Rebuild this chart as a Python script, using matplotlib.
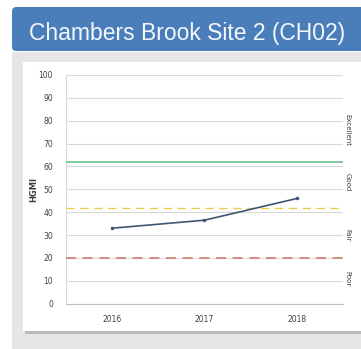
import matplotlib.pyplot as plt
from matplotlib.patches import Rectangle, FancyBboxPatch

# data
years = ['2016', '2017', '2018']
hgmi = [33, 36.5, 46]
excellent_line = 62
good_line = 42
fair_line = 20
band_labels = ['Excellent', 'Good', 'Fair', 'Poor']
band_pos = [76, 53, 30, 11]

W, H = 361, 349
fig = plt.figure(figsize=(W / 100, H / 100), dpi=100)
fig.patch.set_facecolor('white')


def fx(px):
    return px / W


def fy(py):
    return 1 - py / H


# gray panel, blue header, white card
fig.patches.append(Rectangle((fx(12), 0), fx(W - 12), fy(52), transform=fig.transFigure,
                             facecolor='#e6e6e6', edgecolor='none', zorder=0))
fig.patches.append(FancyBboxPatch((fx(12), fy(51)), fx(W), fy(7) - fy(51),
                                  boxstyle='round,pad=0,rounding_size=0.012',
                                  transform=fig.transFigure, facecolor='#4a7ebb',
                                  edgecolor='none', zorder=1))
fig.patches.append(Rectangle((fx(25), fy(334)), fx(W), fy(64) - fy(334), transform=fig.transFigure,
                             facecolor='#b8b8b8', edgecolor='none', zorder=1))
fig.patches.append(Rectangle((fx(23), fy(331)), fx(W), fy(62) - fy(331), transform=fig.transFigure,
                             facecolor='white', edgecolor='none', zorder=2))
fig.text(fx(29), fy(40), 'Chambers Brook Site 2 (CH02)', color='#f4f7fb', fontsize=16.5,
         family='Liberation Sans', va='baseline', ha='left', zorder=3)

ax = fig.add_axes([fx(65.7), fy(303.7), fx(343) - fx(65.7), fy(75) - fy(303.7)])
ax.set_zorder(5)
ax.patch.set_alpha(0)
x = range(len(years))
ax.plot(x, hgmi, color='#3f5573', lw=1.2, marker='o', ms=1.5, zorder=4)
ax.axhline(excellent_line, color='#66c28e', lw=1.2, zorder=3)
ax.axhline(good_line, color='#f0c94a', lw=1, ls=(0, (6, 4)), zorder=3)
ax.axhline(fair_line, color='#d07a70', lw=1.2, ls=(0, (6, 4)), zorder=3)

ax.set_xlim(-0.5, 2.5)
ax.set_ylim(0, 100)
ax.set_yticks(range(0, 101, 10))
ax.set_xticks(list(x))
ax.set_xticklabels(years)
ax.grid(axis='y', color='#d9d9d9', lw=0.8)
ax.set_axisbelow(True)
for s in ['top', 'right']:
    ax.spines[s].set_visible(False)
ax.spines['left'].set_color('#d9d9d9')
ax.spines['bottom'].set_color('#bfbfbf')
ax.tick_params(length=0, labelsize=5.5, colors='#404040')
ax.tick_params(axis='y', pad=9)
ax.tick_params(axis='x', pad=8)
ax.set_ylabel('HGMI', fontsize=6, fontweight='bold', color='#404040', labelpad=0)

for lab, v in zip(band_labels, band_pos):
    ax.text(2.52, v, lab, rotation=-90, fontsize=5, color='#404040', va='center', ha='left')

fig.savefig('out.png', dpi=100)
